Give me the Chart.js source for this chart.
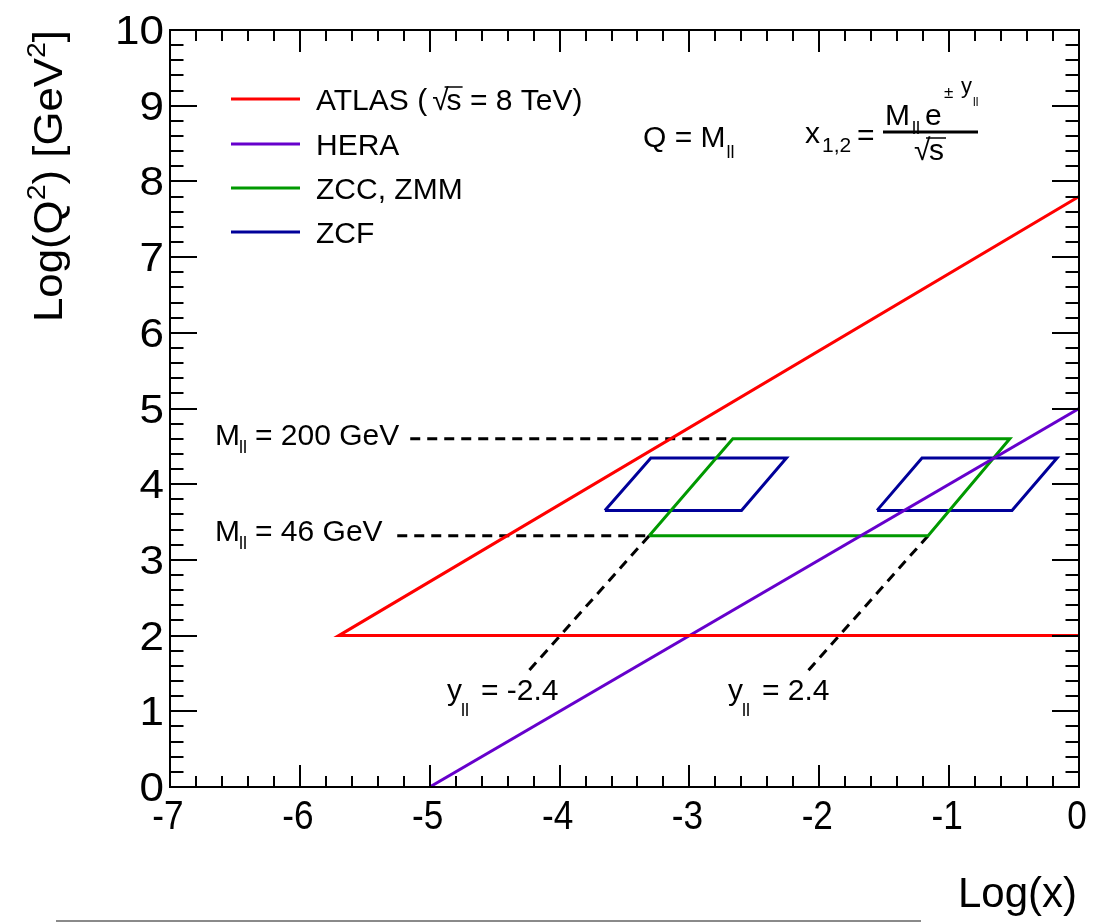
<!DOCTYPE html>
<html>
<head>
<meta charset="utf-8">
<script src="https://cdn.jsdelivr.net/npm/chart.js@4.4.0/dist/chart.umd.min.js"></script>
<style>
  html, body { margin: 0; padding: 0; background: #fff; }
  canvas { display: block; }
</style>
</head>
<body>
<canvas id="kinematicsChart" width="1094" height="923"></canvas>
<script>
// Kinematic coverage, Log(x) vs Log(Q^2)
const xTickValues = [-7, -6, -5, -4, -3, -2, -1, 0];
const xTickLabels = ['-7', '-6', '-5', '-4', '-3', '-2', '-1', '0'];
const yTickValues = [0, 1, 2, 3, 4, 5, 6, 7, 8, 9, 10];
const yTickLabels = ['0', '1', '2', '3', '4', '5', '6', '7', '8', '9', '10'];

const atlasLogX = [0, -5.7, 0];
const atlasLogQ2 = [7.8, 2, 2];
const heraLogX = [-5, 0];
const heraLogQ2 = [0, 5];
const zccLogX = [-3.31, -2.666, -0.533, -1.162, -3.31];
const zccLogQ2 = [3.32, 4.60, 4.60, 3.32, 3.32];
const zcfLowLogX = [-3.651, -3.297, -2.253, -2.599, -3.651];
const zcfHighLogX = [-1.555, -1.209, -0.169, -0.516, -1.555];
const zcfLogQ2 = [3.654, 4.345, 4.345, 3.654, 3.654];

// dashed guide lines
const mass200LogX = [-5.15, -2.666];
const mass200LogQ2 = [4.60, 4.60];
const mass46LogX = [-5.25, -3.31];
const mass46LogQ2 = [3.32, 3.32];
const rapNegLogX = [-3.31, -4.25];
const rapNegLogQ2 = [3.32, 1.51];
const rapPosLogX = [-1.162, -2.10];
const rapPosLogQ2 = [3.32, 1.51];

const FONT = '"Liberation Sans", Arial, Helvetica, sans-serif';

function toPoints(xs, ys) {
  return xs.map((x, i) => ({ x: x, y: ys[i] }));
}

function solid(label, xs, ys, color) {
  return {
    label: label,
    data: toPoints(xs, ys),
    showLine: true,
    borderColor: color,
    backgroundColor: color,
    borderWidth: 3,
    pointRadius: 0,
    borderJoinStyle: 'miter',
    tension: 0
  };
}

function dashed(xs, ys) {
  return {
    label: '',
    data: toPoints(xs, ys),
    showLine: true,
    borderColor: '#000',
    borderWidth: 3,
    borderDash: [10, 7],
    pointRadius: 0,
    tension: 0
  };
}

const legendItems = [
  { text: 'ATLAS', color: '#ff0000' },
  { text: 'HERA', color: '#6600cc' },
  { text: 'ZCC, ZMM', color: '#009900' },
  { text: 'ZCF', color: '#000099' }
];

// draw a run of text pieces: [text, size, dy, extra]
function drawRun(ctx, pieces, x, y) {
  let cx = x;
  pieces.forEach(p => {
    ctx.font = p[1] + 'px ' + FONT;
    ctx.fillText(p[0], cx, y + (p[2] || 0));
    cx += ctx.measureText(p[0]).width + (p[3] || 0);
  });
  return cx;
}

function runWidth(ctx, pieces) {
  let w = 0;
  pieces.forEach(p => {
    ctx.font = p[1] + 'px ' + FONT;
    w += ctx.measureText(p[0]).width + (p[3] || 0);
  });
  return w;
}

function text(ctx, str, size, x, y) {
  ctx.font = size + 'px ' + FONT;
  ctx.fillText(str, x, y);
  return x + ctx.measureText(str).width;
}

const rootFrame = {
  id: 'rootFrame',
  afterDraw(chart) {
    const ctx = chart.ctx;
    const xs = chart.scales.x, ys = chart.scales.y;
    const a = chart.chartArea;
    ctx.save();
    ctx.strokeStyle = '#000';
    ctx.fillStyle = '#000';
    ctx.lineWidth = 2;
    ctx.strokeRect(a.left, a.top, a.right - a.left, a.bottom - a.top);

    // ticks inside on all four sides
    ctx.beginPath();
    for (let i = 0; i <= 35; i++) {
      const v = -7 + i * 0.2;
      const px = Math.round(xs.getPixelForValue(v));
      const len = (i % 5 === 0) ? 22 : 11;
      ctx.moveTo(px, a.bottom); ctx.lineTo(px, a.bottom - len);
      ctx.moveTo(px, a.top); ctx.lineTo(px, a.top + len);
    }
    for (let i = 0; i <= 50; i++) {
      const v = i * 0.2;
      const py = Math.round(ys.getPixelForValue(v));
      const len = (i % 5 === 0) ? 27 : 13.5;
      ctx.moveTo(a.left, py); ctx.lineTo(a.left + len, py);
      ctx.moveTo(a.right, py); ctx.lineTo(a.right - len, py);
    }
    ctx.stroke();

    // tick labels
    ctx.font = '40px ' + FONT;
    ctx.textBaseline = 'alphabetic';
    ctx.textAlign = 'center';
    xTickValues.forEach((v, i) => {
      ctx.save();
      ctx.translate(xs.getPixelForValue(v) - 2, 829);
      ctx.scale(0.88, 1);
      ctx.fillText(xTickLabels[i], 0, 0);
      ctx.restore();
    });
    ctx.textAlign = 'right';
    yTickValues.forEach((v, i) => {
      ctx.save();
      ctx.translate(164, ys.getPixelForValue(v) + 14);
      ctx.scale(1.1, 1);
      ctx.fillText(yTickLabels[i], 0, 0);
      ctx.restore();
    });

    // axis titles
    ctx.textAlign = 'right';
    ctx.font = '42px ' + FONT;
    ctx.fillText('Log(x)', 1077, 907);

    ctx.textAlign = 'left';
    const yTitle = [['Log(Q', 40], ['2', 26, -17], [') [GeV', 40], ['2', 26, -17], [']', 40]];
    const w = runWidth(ctx, yTitle);
    const stretch = 292 / w;
    ctx.translate(62, 30 + w * stretch);
    ctx.rotate(-Math.PI / 2);
    ctx.scale(stretch, 1);
    drawRun(ctx, yTitle, 0, 0);
    ctx.restore();

    // grey rule at the bottom edge
    ctx.save();
    ctx.strokeStyle = '#8a8a8a';
    ctx.lineWidth = 2;
    ctx.beginPath();
    ctx.moveTo(56, 921); ctx.lineTo(921, 921);
    ctx.stroke();
    ctx.restore();
  }
};

const annotations = {
  id: 'annotations',
  afterDatasetsDraw(chart) {
    const ctx = chart.ctx;
    ctx.save();
    ctx.fillStyle = '#000';
    ctx.strokeStyle = '#000';
    ctx.textAlign = 'left';
    ctx.textBaseline = 'alphabetic';

    // legend
    const legendY = [99, 144, 188, 232];
    legendItems.forEach((item, i) => {
      ctx.strokeStyle = item.color;
      ctx.lineWidth = 3;
      ctx.beginPath();
      ctx.moveTo(231, legendY[i]); ctx.lineTo(300, legendY[i]);
      ctx.stroke();
      ctx.fillStyle = '#000';
      const by = legendY[i] + 11;
      if (i === 0) {
        let cx = text(ctx, 'ATLAS (', 30, 316, by);
        cx = text(ctx, '\u221A', 30, cx + 5, by) - 2;
        ctx.font = '30px ' + FONT;
        const sw = ctx.measureText('s').width;
        text(ctx, 's', 30, cx, by);
        ctx.strokeStyle = '#000';
        ctx.lineWidth = 1.5;
        ctx.beginPath();
        ctx.moveTo(cx - 2, legendY[i] - 12); ctx.lineTo(cx + sw + 1, legendY[i] - 12);
        ctx.stroke();
        text(ctx, ' = 8 TeV)', 30, cx + sw, by);
      } else {
        text(ctx, item.text, 30, 316, by);
      }
    });

    ctx.fillStyle = '#000';
    // Q = M_ll
    let cx = text(ctx, 'Q = M', 30, 643, 147);
    text(ctx, 'll', 18, cx + 1, 158);

    // x_{1,2} = M_ll e^{± y_ll} / sqrt(s)
    text(ctx, 'x', 30, 805, 143);
    text(ctx, '1,2', 21, 822, 152);
    text(ctx, '=', 30, 857, 145);
    ctx.lineWidth = 3;
    ctx.strokeStyle = '#000';
    ctx.beginPath();
    ctx.moveTo(883, 132); ctx.lineTo(978, 132);
    ctx.stroke();
    text(ctx, 'M', 30, 885, 125);
    text(ctx, 'll', 18, 912, 134);
    text(ctx, 'e', 30, 925, 125);
    text(ctx, '\u00B1', 17, 944, 98);
    text(ctx, 'y', 22, 961, 93);
    text(ctx, 'll', 12, 973, 106);
    text(ctx, '\u221A', 30, 914, 160);
    text(ctx, 's', 30, 929, 160);
    ctx.lineWidth = 1.5;
    ctx.beginPath();
    ctx.moveTo(926, 138); ctx.lineTo(946, 138);
    ctx.stroke();

    // guide labels
    cx = text(ctx, 'M', 30, 215, 445);
    text(ctx, 'll', 18, cx - 1, 453);
    text(ctx, '= 200 GeV', 30, 255, 445);
    cx = text(ctx, 'M', 30, 215, 541);
    text(ctx, 'll', 18, cx - 1, 549);
    text(ctx, '= 46 GeV', 30, 255, 541);

    cx = text(ctx, 'y', 30, 447, 700);
    text(ctx, 'll', 18, cx - 1, 716);
    text(ctx, '= -2.4', 30, 481, 700);
    cx = text(ctx, 'y', 30, 728, 700);
    text(ctx, 'll', 18, cx - 1, 716);
    text(ctx, '= 2.4', 30, 762, 700);

    ctx.restore();
  }
};

const ctx = document.getElementById('kinematicsChart').getContext('2d');
const kinematicsChart = new Chart(ctx, {
  type: 'scatter',
  data: {
    datasets: [
      solid('ATLAS', atlasLogX, atlasLogQ2, '#ff0000'),
      solid('HERA', heraLogX, heraLogQ2, '#6600cc'),
      solid('ZCC, ZMM', zccLogX, zccLogQ2, '#009900'),
      solid('ZCF', zcfLowLogX, zcfLogQ2, '#000099'),
      solid('ZCF', zcfHighLogX, zcfLogQ2, '#000099'),
      dashed(mass200LogX, mass200LogQ2),
      dashed(mass46LogX, mass46LogQ2),
      dashed(rapNegLogX, rapNegLogQ2),
      dashed(rapPosLogX, rapPosLogQ2)
    ]
  },
  options: {
    responsive: false,
    animation: false,
    layout: { padding: { left: 170, right: 15, top: 30, bottom: 136 } },
    scales: {
      x: { type: 'linear', min: -7, max: 0, display: false },
      y: { type: 'linear', min: 0, max: 10, display: false }
    },
    plugins: {
      legend: { display: false },
      tooltip: { enabled: false }
    }
  },
  plugins: [rootFrame, annotations]
});
</script>
</body>
</html>
